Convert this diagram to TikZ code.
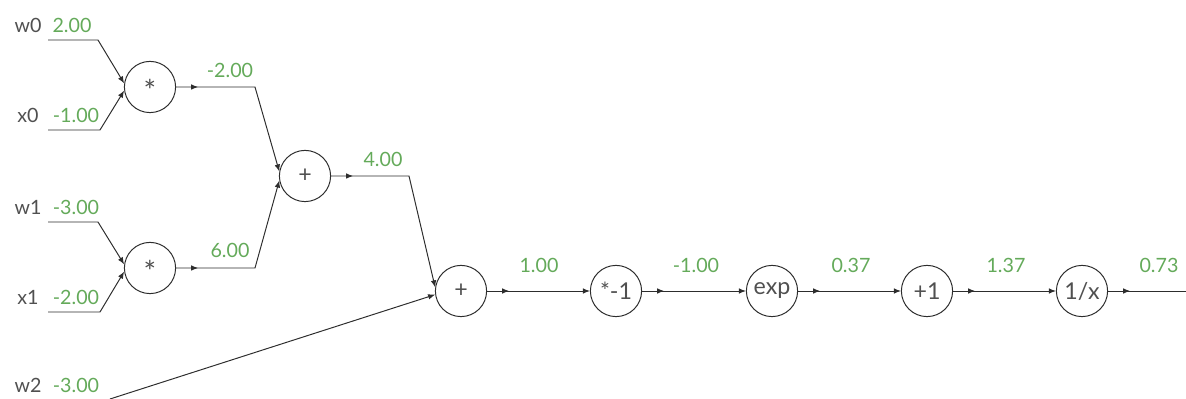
\documentclass[tikz,border=0pt]{standalone}
\usepackage{fontspec}
\setmainfont{Lato}
\usetikzlibrary{arrows.meta, decorations.markings}

\definecolor{ink}{RGB}{80,80,80}
\definecolor{wirecol}{RGB}{45,45,45}
\definecolor{valgreen}{RGB}{100,170,90}

\begin{document}
\begin{tikzpicture}[
x=0.025cm, y=-0.025cm,
gate/.style={circle, draw=wirecol, line width=0.7pt, minimum size=1.28cm, inner sep=0pt, text=ink, font=\fontsize{16.5}{16}\selectfont},
stargate/.style={gate, font=\fontsize{21}{21}\selectfont, text height=2em, text depth=0pt},
varname/.style={anchor=base, text=ink, font=\fontsize{14}{14}\selectfont},
value/.style={anchor=base, text=valgreen, font=\fontsize{14}{14}\selectfont},
feed/.style={draw=wirecol, line width=0.7pt, -{Latex[length=5pt,width=4pt]}},
link/.style={feed, postaction={decorate, decoration={markings, mark=at position 0.55cm with {\arrow{Latex[length=5pt,width=4pt]}}}}},
tail/.style={draw=wirecol, line width=0.7pt, postaction={decorate, decoration={markings, mark=at position 0.55cm with {\arrow{Latex[length=5pt,width=4pt]}}}}}
]
\useasboundingbox (0,0) rectangle (1186,399);

% Gates
\node[stargate] (mul0) at (150,87) {*};
\node[stargate] (mul1) at (150,268) {*};
\node[gate] (add0) at (305,176) {+};
\node[gate] (add1) at (461,291) {+};
\node[gate] (neg) at (616,291) {*-1};
\node[gate] (expo) at (772,291) {exp};
\node[gate] (plusone) at (927,291) {+1};
\node[gate] (recip) at (1082,291) {1/x};
\coordinate (out) at (1186,291);

% Inputs
\coordinate (w0) at (48,40);
\coordinate (x0) at (48,130);
\coordinate (w1) at (48,222);
\coordinate (x1) at (48,312);
\coordinate (w2) at (110,399);

\node[varname] (w0name) at (28,33) {w0};
\node[value] (w0val) at (72,33) {2.00};
\node[varname] (x0name) at (28,123) {x0};
\node[value] (x0val) at (76,123) {-1.00};
\node[varname] (w1name) at (28,215) {w1};
\node[value] (w1val) at (76,215) {-3.00};
\node[varname] (x1name) at (28,305) {x1};
\node[value] (x1val) at (76,305) {-2.00};
\node[varname] (w2name) at (28,393) {w2};
\node[value] (w2val) at (76,393) {-3.00};

\draw[feed] (w0) -- (98,40) -- (mul0.172);
\draw[feed] (x0) -- (100,130) -- (mul0.188);
\draw[feed] (w1) -- (98,222) -- (mul1.172);
\draw[feed] (x1) -- (100,312) -- (mul1.188);
\draw[feed] (w2) -- (add1.188);

% Forward pass
\draw[link] (mul0) -- (255,87) -- (add0.170);
\draw[link] (mul1) -- (255,268) -- (add0.190);
\draw[link] (add0) -- (409,176) -- (add1.172);
\draw[link] (add1) -- (neg);
\draw[link] (neg) -- (expo);
\draw[link] (expo) -- (plusone);
\draw[link] (plusone) -- (recip);
\draw[tail] (recip) -- (out);

% Values
\node[value] (v0) at (230,78) {-2.00};
\node[value] (v1) at (230,258) {6.00};
\node[value] (v2) at (383,167) {4.00};
\node[value] (v3) at (539,273) {1.00};
\node[value] (v4) at (696,273) {-1.00};
\node[value] (v5) at (851,273) {0.37};
\node[value] (v6) at (1006,273) {1.37};
\node[value] (v7) at (1159,273) {0.73};

\end{tikzpicture}
\end{document}
